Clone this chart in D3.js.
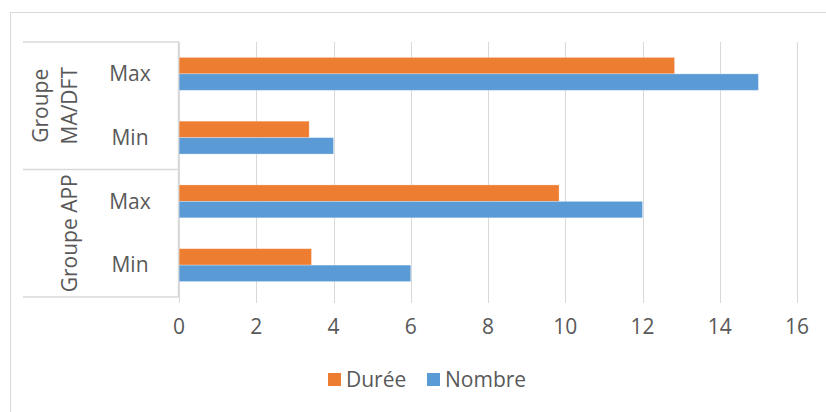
<!DOCTYPE html>
<html>
<head>
<meta charset="utf-8">
<script src="https://d3js.org/d3.v7.min.js"></script>
<style>
  body { margin: 0; background: #fff; }
  text { font-family: "Open Sans", "Liberation Sans", sans-serif; fill: #595959; }
</style>
</head>
<body>
<svg id="chart" width="826" height="412"></svg>
<script>
// data
var groups = [["Groupe", "MA/DFT"], ["Groupe APP"]];
var groupSize = [2, 2];
var categories = ["Max", "Min", "Max", "Min"];
var series = ["Durée", "Nombre"];
var duree = [12.83, 3.37, 9.84, 3.43];
var nombre = [15, 4, 12, 6];
var ticks = [0, 2, 4, 6, 8, 10, 12, 14, 16];
var colors = ["#ED7D31", "#5B9BD5"];

var svg = d3.select("#chart");
var margin = { top: 42, left: 179, right: 29, bottom: 115 };
var width = 826 - margin.left - margin.right,
    height = 412 - margin.top - margin.bottom;
var fs = "21px";

// outer chart frame (runs off the right/bottom edge)
svg.append("rect")
    .attr("x", 10.5).attr("y", 12.5)
    .attr("width", 830).attr("height", 420)
    .attr("fill", "none").attr("stroke", "#d9d9d9");

var x = d3.scaleLinear().domain([0, 16]).range([0, width]);
var y = d3.scaleBand().domain(d3.range(categories.length)).range([0, height])
    .paddingInner(0.484).paddingOuter(0.242);
var ySub = d3.scaleBand().domain(series).range([0, y.bandwidth()]);

var g = svg.append("g").attr("transform", "translate(" + margin.left + "," + margin.top + ")");

// gridlines + bottom ticks
g.selectAll(".grid")
    .data(ticks)
    .enter().append("line")
    .attr("x1", function (d) { return Math.round(x(d)) + 0.5; })
    .attr("x2", function (d) { return Math.round(x(d)) + 0.5; })
    .attr("y1", 0).attr("y2", height + 6)
    .attr("stroke", "#d9d9d9").attr("stroke-width", 1);

g.selectAll(".tick-label")
    .data(ticks)
    .enter().append("text")
    .attr("x", function (d) { return x(d); })
    .attr("y", height + 30)
    .attr("dy", "0.35em")
    .attr("text-anchor", "middle")
    .style("font-size", fs)
    .text(function (d) { return d; });

// bars
var rows = categories.map(function (c, i) { return [duree[i], nombre[i]]; });
var row = g.selectAll(".row")
    .data(rows)
    .enter().append("g")
    .attr("transform", function (_, i) { return "translate(0," + y(i) + ")"; });

row.selectAll("rect")
    .data(function (d) { return d; })
    .enter().append("rect")
    .attr("x", x(0))
    .attr("y", function (_, j) { return ySub(series[j]); })
    .attr("width", function (d) { return x(d) - x(0); })
    .attr("height", ySub.bandwidth())
    .attr("fill", function (_, j) { return colors[j]; })
    .attr("stroke", "#fff").attr("stroke-opacity", 0.35).attr("stroke-width", 0.8);

// category axis with group separators
var step = y.step();
var lineCol = "#d9d9d9";
var axisG = svg.append("g").attr("transform", "translate(0," + margin.top + ")");
axisG.append("line")
    .attr("x1", margin.left - 0.5).attr("x2", margin.left - 0.5)
    .attr("y1", 0).attr("y2", height)
    .attr("stroke", lineCol).attr("stroke-width", 1.5);

var sepY = [0];
groupSize.reduce(function (acc, n) { sepY.push((acc + n) * step); return acc + n; }, 0);
axisG.selectAll(".sep")
    .data(sepY)
    .enter().append("line")
    .attr("x1", 23).attr("x2", margin.left)
    .attr("y1", function (d) { return d; })
    .attr("y2", function (d) { return d; })
    .attr("stroke", lineCol).attr("stroke-width", 1.5);

axisG.selectAll(".cat")
    .data(categories)
    .enter().append("text")
    .attr("x", 130)
    .attr("y", function (_, i) { return y(i) + y.bandwidth() / 2; })
    .attr("dy", "0.35em")
    .attr("text-anchor", "middle")
    .style("font-size", fs)
    .text(function (d) { return d; });

groups.forEach(function (lines, gi) {
    var y0 = sepY[gi], y1 = sepY[gi + 1];
    var cy = (y0 + y1) / 2;
    var t = axisG.append("text")
        .attr("transform", "translate(70," + cy + ") rotate(-90)")
        .attr("text-anchor", "middle")
        .style("font-size", fs);
    lines.forEach(function (ln, k) {
        t.append("tspan")
            .attr("x", 0)
            .attr("y", (k - (lines.length - 1)) * 29)
            .attr("dy", "0.35em")
            .text(ln);
    });
});

// legend
var legend = svg.append("g").attr("transform", "translate(328,373)");
var lx = [0, 99];
series.forEach(function (s, j) {
    legend.append("rect")
        .attr("x", lx[j]).attr("y", 0)
        .attr("width", 13).attr("height", 13)
        .attr("fill", colors[j]);
    legend.append("text")
        .attr("x", lx[j] + 18).attr("y", 7)
        .attr("dy", "0.35em")
        .style("font-size", fs)
        .text(s);
});
</script>
</body>
</html>
